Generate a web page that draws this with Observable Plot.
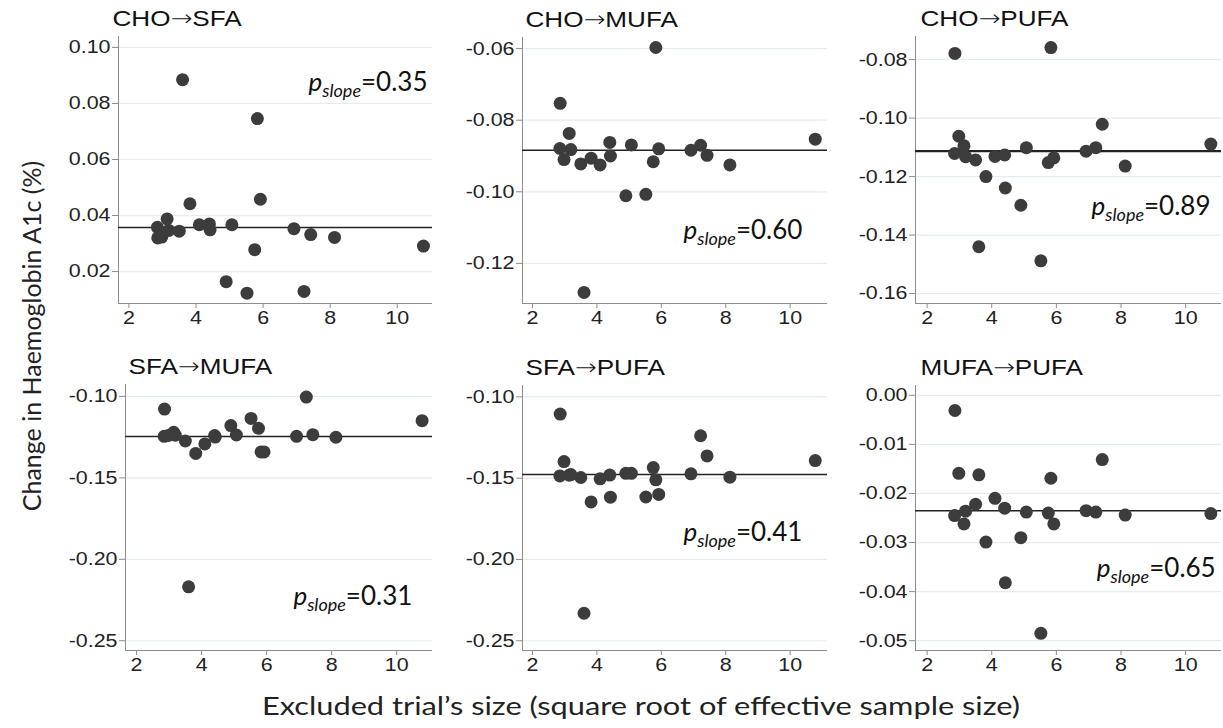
<!DOCTYPE html>
<html><head><meta charset="utf-8">
<script src="https://cdn.jsdelivr.net/npm/d3@7"></script>
<script src="https://cdn.jsdelivr.net/npm/@observablehq/plot@0.6"></script>
<style>
body{margin:0;background:#fff;}
#chart{position:relative;width:1223px;height:728px;overflow:hidden;background:#fff;}
.panel{position:absolute;}
.panel svg{max-width:none;overflow:visible;display:block;}
#ylab{position:absolute;left:31px;top:336px;transform:translate(-50%,-50%) rotate(-90deg);font-family:Lato,sans-serif;font-size:25px;white-space:nowrap;color:#222;}
#xlab{position:absolute;left:641px;top:705px;transform:translate(-50%,-50%) scaleX(1.23);font-family:Lato,sans-serif;font-size:25px;white-space:nowrap;color:#222;}
</style></head>
<body><div id="chart"><div id="ylab">Change in Haemoglobin A1c (%)</div><div id="xlab">Excluded trial’s size (square root of effective sample size)</div></div>
<script>
// ---- data ----
const titles = ["CHO→SFA", "CHO→MUFA", "CHO→PUFA", "SFA→MUFA", "SFA→PUFA", "MUFA→PUFA"];
const trialSize = [2.85, 2.86, 2.98, 3.14, 3.19, 3.50, 3.60, 3.82, 4.10, 4.40, 4.42, 4.90, 5.07, 5.52, 5.75, 5.83, 5.92, 6.92, 7.22, 7.42, 8.13, 10.78];
const choSfa  = [0.0358, 0.0320, 0.0323, 0.0388, 0.0347, 0.0344, 0.0885, 0.0442, 0.0367, 0.0370, 0.0349, 0.0164, 0.0367, 0.0123, 0.0278, 0.0746, 0.0458, 0.0353, 0.0129, 0.0332, 0.0322, 0.0291];
const choMufa = [-0.0879, -0.0753, -0.0910, -0.0837, -0.0882, -0.0922, -0.1281, -0.0906, -0.0925, -0.0862, -0.0900, -0.1011, -0.0869, -0.1007, -0.0916, -0.0597, -0.0880, -0.0884, -0.0870, -0.0898, -0.0925, -0.0853];
const choPufa = [-0.1121, -0.0779, -0.1062, -0.1095, -0.1132, -0.1143, -0.1440, -0.1200, -0.1131, -0.1126, -0.1239, -0.1298, -0.1101, -0.1488, -0.1152, -0.0759, -0.1136, -0.1113, -0.1101, -0.1021, -0.1164, -0.1089];
const sfaMufa = [-0.1245, -0.1078, -0.1240, -0.1220, -0.1238, -0.1274, -0.2169, -0.1350, -0.1292, -0.1240, -0.1250, -0.1179, -0.1237, -0.1135, -0.1196, -0.1341, -0.1341, -0.1245, -0.1004, -0.1235, -0.1251, -0.1149];
const sfaPufa = [-0.1486, -0.1106, -0.1398, -0.1482, -0.1478, -0.1496, -0.2331, -0.1646, -0.1504, -0.1481, -0.1617, -0.1470, -0.1470, -0.1616, -0.1435, -0.1510, -0.1600, -0.1473, -0.1239, -0.1363, -0.1494, -0.1392];
const mufaPufa = [-0.0245, -0.0031, -0.0159, -0.0262, -0.0236, -0.0222, -0.0162, -0.0299, -0.0210, -0.0230, -0.0382, -0.0290, -0.0238, -0.0485, -0.0240, -0.0169, -0.0262, -0.0235, -0.0238, -0.0131, -0.0244, -0.0241];
const pooled = [0.0357, -0.0884, -0.1113, -0.1246, -0.1478, -0.0235];
const pSlope = ["0.35", "0.60", "0.89", "0.31", "0.41", "0.65"];
const xTicks = [2, 4, 6, 8, 10];
const yTicks = [
  [0.02, 0.04, 0.06, 0.08, 0.10],
  [-0.12, -0.10, -0.08, -0.06],
  [-0.16, -0.14, -0.12, -0.10, -0.08],
  [-0.25, -0.20, -0.15, -0.10],
  [-0.25, -0.20, -0.15, -0.10],
  [-0.05, -0.04, -0.03, -0.02, -0.01, 0.00]
];
const series = [choSfa, choMufa, choPufa, sfaMufa, sfaPufa, mufaPufa];

// ---- layout ----
const M = {left: 70, top: 36, right: 2, bottom: 40};
const layout = [
  {left: 118, top: 36,  w: 314, h: 267, tdx: -6, xd: [1.69, 11.05], yd: [0.0086, 0.1039],   annot: [10.9, 0.0875]},
  {left: 522, top: 37,  w: 305, h: 266, tdx: 3,  xd: [1.69, 11.16], yd: [-0.1312, -0.0569], annot: [10.38, -0.1108]},
  {left: 915, top: 36,  w: 306, h: 267, tdx: 5,  xd: [1.64, 11.11], yd: [-0.1634, -0.0721], annot: [10.77, -0.1302]},
  {left: 125, top: 384, w: 307, h: 266, tdx: 3,  xd: [1.66, 11.1],  yd: [-0.256, -0.0927],  annot: [10.48, -0.223]},
  {left: 522, top: 385, w: 305, h: 265, tdx: 3,  xd: [1.69, 11.16], yd: [-0.256, -0.093],   annot: [10.38, -0.1837]},
  {left: 915, top: 385, w: 306, h: 265, tdx: 5,  xd: [1.64, 11.11], yd: [-0.052, 0.002],    annot: [10.93, -0.0353]}
];

const fmt = d => (Math.abs(d) < 1e-9 ? 0 : d).toFixed(2);
const axisColor = "#8c8c8c";
const chart = document.getElementById("chart");
const ns = "http://www.w3.org/2000/svg";
const SX = 1.16;

series.forEach((vals, i) => {
  const L = layout[i];
  const data = trialSize.map((x, j) => ({x, y: vals[j]}));
  const svg = Plot.plot({
    width: M.left + L.w + M.right,
    height: M.top + L.h + M.bottom,
    marginLeft: M.left, marginTop: M.top, marginRight: M.right, marginBottom: M.bottom,
    x: {domain: L.xd},
    y: {domain: L.yd},
    style: {fontFamily: "'Liberation Sans', Arial, sans-serif", fontSize: "18.5px", color: "#222", background: "transparent", overflow: "visible"},
    marks: [
      Plot.ruleY(yTicks[i], {stroke: "#e2ecf1", strokeWidth: 1.2}),
      Plot.ruleX([L.xd[0]], {stroke: axisColor}),
      Plot.ruleY([L.yd[0]], {stroke: axisColor}),
      Plot.axisY(yTicks[i], {tickSize: 6, tickPadding: 2, tickFormat: fmt, stroke: axisColor, fill: "#222", fontSize: 18.5, label: null, className: "stretch"}),
      Plot.axisX(xTicks, {tickSize: 5, tickPadding: 2, stroke: axisColor, fill: "#222", fontSize: 18.5, label: null, className: "stretch"}),
      Plot.ruleY([pooled[i]], {stroke: "#222", strokeWidth: i === 2 ? 2.2 : 1.5}),
      Plot.dot(data, {x: "x", y: "y", r: 6.5, fill: "#3c3c3c", stroke: "none"}),
      Plot.text([titles[i]], {frameAnchor: "top-left", textAnchor: "start", lineAnchor: "middle", dy: -18, dx: L.tdx, fontSize: 22.5, fill: "#111", className: "stretch title"}),
      Plot.text([pSlope[i]], {x: () => L.annot[0], y: () => L.annot[1], text: d => d, textAnchor: "end", lineAnchor: "middle", fontFamily: "Lato", fontSize: 26, fill: "#111", className: "pslope"})
    ]
  });
  // long thin arrow glyph in the panel titles
  svg.querySelectorAll(".title text").forEach(t => {
    const parts = t.textContent.split("→");
    t.textContent = "";
    const a = document.createElementNS(ns, "tspan"); a.textContent = parts[0];
    const b = document.createElementNS(ns, "tspan"); b.textContent = "→";
    b.setAttribute("font-family", "DejaVu Sans"); b.setAttribute("font-weight", "200");
    const c = document.createElementNS(ns, "tspan"); c.textContent = parts[1];
    t.append(a, b, c);
  });
  // horizontal stretch of Arial-like labels to match the reference proportions
  svg.querySelectorAll(".stretch text").forEach(t => {
    t.style.fontFamily = "'Liberation Sans', Arial, sans-serif";
    const x = +(t.getAttribute("x") || 0);
    t.setAttribute("transform", (t.getAttribute("transform") || "") + ` translate(${x},0) scale(${SX},1) translate(${-x},0)`);
  });
  svg.querySelectorAll(".pslope text").forEach(t => {
    const v = t.textContent;
    t.textContent = "";
    const a = document.createElementNS(ns, "tspan");
    a.setAttribute("font-style", "italic"); a.textContent = "p";
    const b = document.createElementNS(ns, "tspan");
    b.setAttribute("font-style", "italic"); b.setAttribute("font-size", "18"); b.setAttribute("dy", "6"); b.textContent = "slope";
    const c = document.createElementNS(ns, "tspan");
    c.setAttribute("dy", "-6"); c.textContent = "=" + v;
    t.append(a, b, c);
  });
  const div = document.createElement("div");
  div.className = "panel";
  div.style.left = (L.left - M.left) + "px";
  div.style.top = (L.top - M.top) + "px";
  div.appendChild(svg);
  chart.appendChild(div);
});
</script>
</body></html>
